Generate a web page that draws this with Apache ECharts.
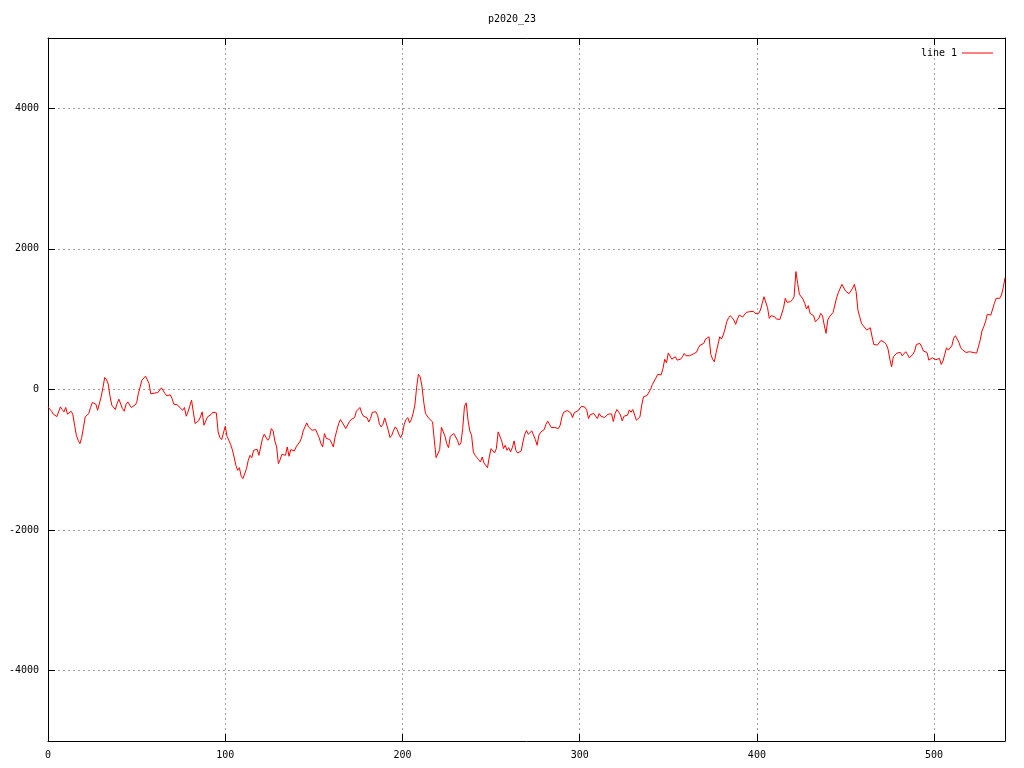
<!DOCTYPE html>
<html><head><meta charset="utf-8">
<script src="https://cdn.jsdelivr.net/npm/echarts@6/dist/echarts.min.js"></script>
<style>html,body{margin:0;padding:0;background:#fff}#c{width:1024px;height:768px}</style>
</head><body><div id="c"></div>
<script>
const chartTitle = 'p2020_23';
const seriesName = 'line 1';
const xTicks = [0, 100, 200, 300, 400, 500];
const yTicks = [-4000, -2000, 0, 2000, 4000];
const xRange = [0, 540];
const yRange = [-5000, 5000];
const values = [
-250,-256,-309,-351,-356,-385,-385,-247,-285,-318,
-256,-351,-323,-309,-351,-508,-651,-722,-770,-684,
-541,-390,-413,-342,-256,-185,-180,-209,-295,-323,
-104,28,171,142,76,-95,-223,-209,-285,-199,
-138,-114,-271,-309,-214,-176,-190,-256,-247,-223,
-190,-57,38,133,147,190,162,86,-62,-71,
-52,-48,-43,-57,24,14,-57,-90,-104,-76,
-128,-209,-209,-218,-247,-271,-295,-256,-380,-318,
-237,-152,-318,-484,-456,-446,-390,-318,-508,
-523,-390,-366,-356,-323,-295,-333,-603,-684,-713,
-618,-523,-665,-722,-779,-855,-960,-1078,-1150,-1112,
-1235,-1268,-1254,-1126,-1007,-936,-969,-865,-841,-850,
-936,-926,-698,-637,-665,-722,-684,-556,-589,-732,
-817,-1055,-998,-921,-912,-936,-817,-950,-855,-827,
-874,-817,-803,-746,-694,-589,-570,-475,-532,-546,
-580,-580,-570,-561,-684,-770,-817,-627,-694,-698,
-713,-760,-817,-675,-580,-485,-428,-456,-508,-556,
-570,-461,-428,-423,-399,-309,-323,
-256,-333,-380,-380,-399,-461,-413,-323,-295,-318,
-366,-494,-532,-494,-404,-413,-580,-684,-651,-580,
-532,-570,-637,-684,-627,-494,-428,-399,-475,-428,
-342,-223,28,215,180,48,-176,-342,-366,-413,
-413,-461,-731,-969,-983,-855,-537,-556,-665,-770,
-827,-665,-651,-627,-627,-722,-793,-760,-556,-237,
-190,-437,-589,-651,-888,-936,-969,-998,-1031,-960,
-1045,-1078,-1112,-960,-841,-817,-903,-841,-603,-618,
-731,-841,-793,-865,-827,-888,-827,-731,
-865,-903,-912,-874,-746,-637,-584,-637,-618,-589,
-589,-713,-793,-651,-608,-584,-570,-494,-451,-475,
-541,-537,-541,-513,-556,-508,-390,-323,-299,-299,
-314,-333,-399,-328,-304,-304,-276,-237,-228,-252,
-295,-413,-356,-380,-342,-333,-413,-342,-380,-366,
-399,-418,-351,-342,-347,-456,-342,-285,-318,-361,
-446,-380,-361,-366,-290,-323,-285,-285,-437,-413,
-390,-223,-104,-85,-85,-66,0,71,95,161,
214,190,209,300,430,380,520,
527,432,404,466,418,442,432,466,513,480,
466,480,499,504,504,532,594,632,622,655,
717,717,750,499,432,394,527,632,750,717,
774,859,964,1021,1050,1021,988,926,1002,1059,
1059,1031,1036,1097,1102,1107,1107,1112,1083,1059,
1083,1130,1225,1320,1306,1164,1012,1050,1050,1036,
1002,978,997,1012,1154,1297,1240,1221,1249,1278,
1320,1677,1510,1354,1335,1287,1225,1145,1192,1083,
1069,1050,964,964,1012,1083,1050,917,
798,988,1036,1040,1097,1202,1306,1382,1439,1496,
1477,1401,1382,1363,1401,1439,1496,1392,1131,1036,
941,907,898,845,860,879,750,641,622,632,
655,698,679,670,641,575,432,323,466,489,
518,537,527,480,475,537,499,451,447,499,
546,641,632,655,608,546,527,527,418,442,
451,442,423,451,442,356,404,499,594,560,
570,622,727,765,746,670,594,565,537,527,
513,537,546,527,499,518,608,703,831,893,
964,1069,1069,1059,1083,1225,1297,1325,1297,1344,
1448,1591
];

const FONT = 'DejaVu Sans Mono';
const gridStyle = { color: '#a0a0a0', width: 1, type: [2, 3] };
const lineBlack = { color: '#000', width: 1 };

function makeAxis(pos, ticks, range, labels, grid) {
  return {
    type: 'value', position: pos, min: range[0], max: range[1],
    axisLine: { show: true, onZero: false, lineStyle: lineBlack },
    axisTick: { show: true, inside: true, length: 7, customValues: ticks, lineStyle: lineBlack },
    axisLabel: { show: labels, customValues: ticks, color: '#000', fontFamily: FONT, fontSize: 10,
      margin: 9, formatter: v => String(v) },
    splitLine: { show: grid, lineStyle: gridStyle }
  };
}

const chart = echarts.init(document.getElementById('c'), null, { renderer: 'canvas' });
chart.setOption({
  animation: false,
  backgroundColor: '#fff',
  title: { text: chartTitle, left: 'center', top: 9,
    textStyle: { fontFamily: FONT, fontSize: 10, fontWeight: 'normal', color: '#000' } },
  legend: { data: [{ name: seriesName, icon: 'rect' }], right: 26, top: 43, align: 'right',
    itemWidth: 31, itemHeight: 1, itemStyle: { color: '#ff0000', borderWidth: 0 },
    textStyle: { fontFamily: FONT, fontSize: 10, color: '#000' } },
  grid: { left: 48, right: 19, top: 38, bottom: 27 },
  xAxis: [makeAxis('bottom', xTicks, xRange, true, true), makeAxis('top', xTicks, xRange, false, false)],
  yAxis: [makeAxis('left', yTicks, yRange, true, true), makeAxis('right', yTicks, yRange, false, false)],
  series: [{
    name: seriesName, type: 'line', xAxisIndex: 0, yAxisIndex: 0,
    data: values.map((v, i) => [i, v]),
    symbol: 'none', showSymbol: false,
    lineStyle: { color: '#ff0000', width: 1 }, itemStyle: { color: '#ff0000' }
  }]
});
</script>
</body></html>
